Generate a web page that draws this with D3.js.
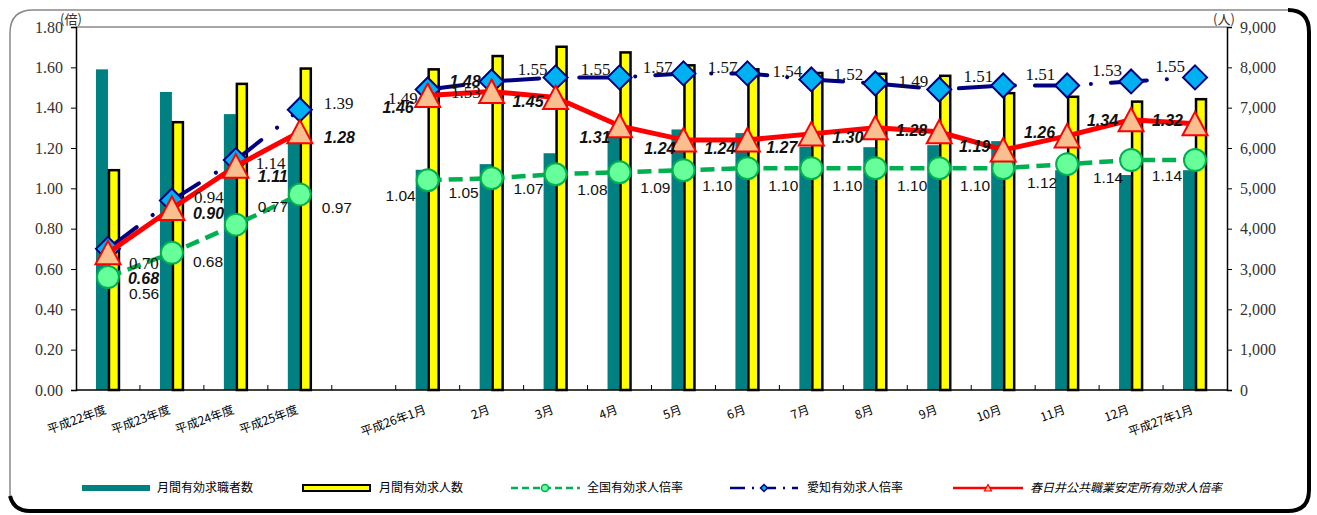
<!DOCTYPE html>
<html>
<head>
<meta charset="utf-8">
<script src="https://cdn.jsdelivr.net/npm/d3@7"></script>
<style>
body{margin:0;background:#fff;}
</style>
</head>
<body>
<svg id="chart"></svg>
<script>
// data
var categories = ["平成22年度","平成23年度","平成24年度","平成25年度","",
  "平成26年1月","2月","3月","4月","5月","6月","7月","8月","9月","10月","11月","12月","平成27年1月"];
var seekers = [7950,7390,6840,6150,null,5460,5600,5870,6300,6460,6370,6030,6020,6070,6170,5450,5330,5450];
var offers  = [5450,6640,7590,7970,null,7950,8280,8510,8370,8050,7950,7860,7840,7790,7360,7270,7150,7210];
var national = [0.56,0.68,0.82,0.97,null,1.04,1.05,1.07,1.08,1.09,1.10,1.10,1.10,1.10,1.10,1.12,1.14,1.14];
var nationalLabels = ["0.56","0.68","0.77","0.97","","1.04","1.05","1.07","1.08","1.09","1.10","1.10","1.10","1.10","1.10","1.12","1.14","1.14"];
var aichi = [0.70,0.94,1.14,1.39,null,1.49,1.53,1.55,1.55,1.57,1.57,1.54,1.52,1.49,1.51,1.51,1.53,1.55];
var kasugai = [0.68,0.90,1.11,1.28,null,1.46,1.48,1.45,1.31,1.24,1.24,1.27,1.30,1.28,1.19,1.26,1.34,1.32];
var leftTicks = [0,0.2,0.4,0.6,0.8,1.0,1.2,1.4,1.6,1.8];
var rightTicks = [0,1000,2000,3000,4000,5000,6000,7000,8000,9000];
var legendNames = ["月間有効求職者数","月間有効求人数","全国有効求人倍率","愛知有効求人倍率","春日井公共職業安定所有効求人倍率"];

// label offsets from the point (layout only)
var natOff = [[21,16],[21,9],[22,-18],[22,13],null,[-12,15],[-13,14],[-12,14],[-12,17],[-13,17],[-15,17],[-13,17],[-13,17],[-12,17],[-13,17],[-10,18],[-8,17],[-13,15]];
var aichiOff = [[21,14],[22,-4],[20,3],[24,-7],null,[-10,8],[-11,10],[-8,-9],[-9,-9],[-11,-7],[-10,-7],[-9,-9],[-12,-10],[-11,-9],[-10,-10],[-12,-12],[-9,-12],[-10,-12]];
var kasOff = [[20,25],[21,5],[22,10],[24,5],null,[-14,12],[-11,-10],[-12,4],[-9,11],[-8,8],[-12,8],[-14,13],[-12,9],[-12,-2],[-13,-4],[-12,-4],[-13,0],[-12,-4]];

var width = 1317, height = 515;
var pl = 76, pr = 1227, pt = 27, pb = 390;

var svg = d3.select("#chart").attr("width", width).attr("height", height);

// outer frame
svg.append("path")
  .attr("d","M10,496 L10,33 Q10,10 33,10 L1290,10")
  .attr("fill","none").attr("stroke","#888").attr("stroke-width",1.5);
svg.append("path")
  .attr("d","M1288,10 Q1309,10 1309,32 L1309,490 Q1309,511 1288,511 L30,511 Q14,511 10,496")
  .attr("fill","none").attr("stroke","#000").attr("stroke-width",4);

var x = d3.scaleBand().domain(categories).range([pl, pr]).paddingInner(0.625).paddingOuter(0.3125);
var xs = d3.scaleBand().domain(["seekers","offers"]).range([0, x.bandwidth()]);
var yL = d3.scaleLinear().domain([0, 1.8]).range([pb, pt]);
var yR = d3.scaleLinear().domain([0, 9000]).range([pb, pt]);
function cx(i){ return x(categories[i]) + x.bandwidth()/2; }

// plot top border
svg.append("line").attr("x1",pl).attr("x2",pr).attr("y1",pt).attr("y2",pt)
  .attr("stroke","#888").attr("stroke-width",1.5);

// bars
var idx = d3.range(categories.length);
svg.append("g").selectAll("rect")
  .data(idx.filter(function(i){return seekers[i]!=null;}))
  .join("rect")
  .attr("x", function(i){return x(categories[i]) + xs("seekers");})
  .attr("width", xs.bandwidth())
  .attr("y", function(i){return yR(seekers[i]);})
  .attr("height", function(i){return yR(0) - yR(seekers[i]);})
  .attr("fill","#008080");
svg.append("g").selectAll("rect")
  .data(idx.filter(function(i){return offers[i]!=null;}))
  .join("rect")
  .attr("x", function(i){return x(categories[i]) + xs("offers") + 1;})
  .attr("width", xs.bandwidth() - 2)
  .attr("y", function(i){return yR(offers[i]);})
  .attr("height", function(i){return yR(0) - yR(offers[i]);})
  .attr("fill","#FFFF00").attr("stroke","#000").attr("stroke-width",2.5);

// axes
var gl = svg.append("g").attr("transform","translate("+pl+",0)")
  .call(d3.axisLeft(yL).tickValues(leftTicks).tickFormat(d3.format(".2f")).tickSize(5).tickPadding(8));
var gr = svg.append("g").attr("transform","translate("+pr+",0)")
  .call(d3.axisRight(yR).tickValues(rightTicks).tickFormat(d3.format(",")).tickSize(5).tickPadding(8));
[gl, gr].forEach(function(g){
  g.select(".domain").attr("stroke","#000").attr("stroke-width",1.5);
  g.selectAll(".tick line").attr("stroke","#000");
  g.selectAll("text").attr("font-family","'Liberation Serif', 'DejaVu Serif', serif")
    .attr("font-size",16).attr("fill","#333");
});
svg.append("text").attr("x",60).attr("y",24).text("(倍)")
  .attr("font-family","'Noto Sans CJK JP', sans-serif").attr("font-size",13).attr("fill","#333");
svg.append("text").attr("x",1213).attr("y",24).text("(人)")
  .attr("font-family","'Noto Sans CJK JP', sans-serif").attr("font-size",13).attr("fill","#333");

// x baseline and boundary ticks
svg.append("line").attr("x1",pl).attr("x2",pr).attr("y1",pb).attr("y2",pb)
  .attr("stroke","#000").attr("stroke-width",1.5);
svg.append("g").selectAll("line")
  .data(idx.slice(1))
  .join("line")
  .attr("x1", function(i){return x(categories[i]) - x.step()*x.paddingInner()/2;})
  .attr("x2", function(i){return x(categories[i]) - x.step()*x.paddingInner()/2;})
  .attr("y1", pb).attr("y2", pb-5)
  .attr("stroke","#000");
svg.append("g").selectAll("text")
  .data(idx.filter(function(i){return categories[i]!="";}))
  .join("text")
  .attr("transform", function(i){return "translate("+(cx(i)-1)+",413) rotate(-20)";})
  .attr("text-anchor","end")
  .attr("font-family","'Noto Sans CJK JP', sans-serif")
  .attr("font-size",12)
  .text(function(i){return categories[i];});

// lines
function drawSeries(vals, stroke, sw, dash, cap){
  var line = d3.line()
    .defined(function(i){return vals[i]!=null;})
    .x(function(i){return cx(i);})
    .y(function(i){return yL(vals[i]);});
  svg.append("path").datum(idx)
    .attr("fill","none").attr("stroke",stroke).attr("stroke-width",sw)
    .attr("stroke-dasharray",dash).attr("stroke-linecap",cap).attr("stroke-linejoin","round")
    .attr("d", line);
}
var valid = function(vals){ return idx.filter(function(i){return vals[i]!=null;}); };

drawSeries(national, "#00B050", 4.5, "14,7", "butt");
svg.append("g").selectAll("circle").data(valid(national)).join("circle")
  .attr("cx", function(i){return cx(i);})
  .attr("cy", function(i){return yL(national[i]);})
  .attr("r", 11)
  .attr("fill","#66FF99").attr("stroke","#00B050").attr("stroke-width",2);

drawSeries(aichi, "#000080", 4, "36,20,0.1,20", "round");
svg.append("g").selectAll("path").data(valid(aichi)).join("path")
  .attr("transform", function(i){return "translate("+cx(i)+","+yL(aichi[i])+")";})
  .attr("d","M0,-12L12,0L0,12L-12,0Z")
  .attr("fill","#00B0F0").attr("stroke","#000080").attr("stroke-width",2);

drawSeries(kasugai, "#FF0000", 5, null, "butt");
svg.append("g").selectAll("path").data(valid(kasugai)).join("path")
  .attr("transform", function(i){return "translate("+cx(i)+","+yL(kasugai[i])+")";})
  .attr("d","M0,-12L12.5,11.5L-12.5,11.5Z")
  .attr("fill","#F9BF8F").attr("stroke","#FF0000").attr("stroke-width",2);

// value labels
function drawLabels(vals, texts, off, font, size, weight, style){
  svg.append("g").selectAll("text").data(valid(vals)).join("text")
    .attr("x", function(i){return cx(i) + off[i][0];})
    .attr("y", function(i){return yL(vals[i]) + off[i][1];})
    .attr("dy","0.36em")
    .attr("text-anchor", function(i){return off[i][0] > 0 ? "start" : "end";})
    .attr("font-family", font).attr("font-size", size)
    .attr("font-weight", weight).attr("font-style", style)
    .attr("fill","#111")
    .text(function(i){return texts[i];});
}
var f2 = d3.format(".2f");
drawLabels(national, nationalLabels, natOff, "'Liberation Sans', Arial, sans-serif", 15.5, "normal", "normal");
drawLabels(aichi, aichi.map(function(v){return v==null?"":f2(v);}), aichiOff, "'Liberation Serif', 'DejaVu Serif', serif", 17, "normal", "normal");
drawLabels(kasugai, kasugai.map(function(v){return v==null?"":f2(v);}), kasOff, "'Liberation Sans', Arial, sans-serif", 16, "bold", "italic");

// legend
var ly = 488;
var lg = svg.append("g").attr("font-family","'Noto Sans CJK JP', sans-serif").attr("font-size",12);
lg.append("rect").attr("x",82).attr("y",ly-3).attr("width",68).attr("height",6).attr("fill","#008080");
lg.append("rect").attr("x",303).attr("y",ly-3).attr("width",67).attr("height",6)
  .attr("fill","#FFFF00").attr("stroke","#000").attr("stroke-width",2);
lg.append("line").attr("x1",511).attr("x2",580).attr("y1",ly).attr("y2",ly)
  .attr("stroke","#00B050").attr("stroke-width",2.5).attr("stroke-dasharray","7,4");
lg.append("circle").attr("cx",545).attr("cy",ly).attr("r",3.5)
  .attr("fill","#66FF99").attr("stroke","#00B050").attr("stroke-width",1.5);
lg.append("line").attr("x1",730).attr("x2",798).attr("y1",ly).attr("y2",ly)
  .attr("stroke","#000080").attr("stroke-width",2.5).attr("stroke-dasharray","15,7,2,7");
lg.append("path").attr("transform","translate(764,"+ly+")").attr("d","M0,-3.5L3.5,0L0,3.5L-3.5,0Z")
  .attr("fill","#00B0F0").attr("stroke","#000080").attr("stroke-width",1.5);
lg.append("line").attr("x1",953).attr("x2",1023).attr("y1",ly).attr("y2",ly)
  .attr("stroke","#FF0000").attr("stroke-width",2.5);
lg.append("path").attr("transform","translate(988,"+ly+")").attr("d","M0,-3.5L3.5,3L-3.5,3Z")
  .attr("fill","#F9BF8F").attr("stroke","#FF0000").attr("stroke-width",1.2);
var lx = [157, 379, 587, 807, 1030];
lg.selectAll("text.lab").data(legendNames).join("text")
  .attr("class","lab")
  .attr("x", function(d,i){return lx[i];})
  .attr("y", ly).attr("dy","0.36em")
  .attr("font-style", function(d,i){return i==4 ? "italic" : "normal";})
  .text(function(d){return d;});
</script>
</body>
</html>
